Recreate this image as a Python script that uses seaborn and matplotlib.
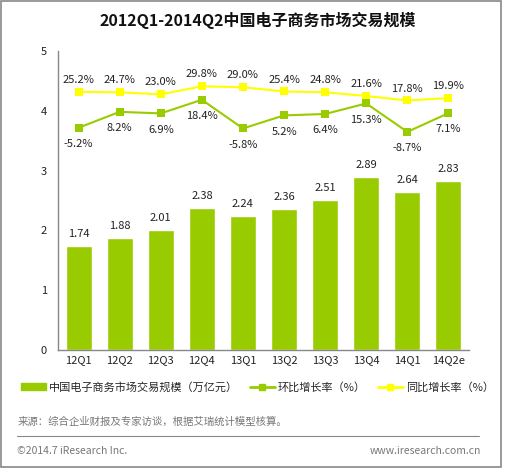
import numpy as np
import seaborn as sns
import matplotlib.pyplot as plt
from matplotlib.lines import Line2D
from matplotlib.patches import Patch, Rectangle

# data
quarters = ['12Q1', '12Q2', '12Q3', '12Q4', '13Q1', '13Q2', '13Q3', '13Q4', '14Q1', '14Q2e']
scale = [1.74, 1.88, 2.01, 2.38, 2.24, 2.36, 2.51, 2.89, 2.64, 2.83]
qoq = [-5.2, 8.2, 6.9, 18.4, -5.8, 5.2, 6.4, 15.3, -8.7, 7.1]
yoy = [25.2, 24.7, 23.0, 29.8, 29.0, 25.4, 24.8, 21.6, 17.8, 19.9]

green = '#99CC00'
yellow = '#FFFF00'

sns.set_style('white')
plt.rcParams['font.family'] = ['Noto Sans CJK SC', 'DejaVu Sans']

fig = plt.figure(figsize=(5.05, 4.68), dpi=100)
ax = fig.add_axes([0.1149, 0.2521, 0.8138, 0.6389])

sns.barplot(x=quarters, y=scale, color=green, width=0.63, saturation=1, ax=ax)
ax.set_ylim(0, 5)
ax.set_xlim(-0.5, 9.5)
ax.set_yticks(range(6))
ax.tick_params(axis='both', labelsize=8, length=0, colors='#222222')
ax.tick_params(axis='y', pad=8)
ax.tick_params(axis='x', pad=4)
for side in ['top', 'right']:
    ax.spines[side].set_visible(False)
for side in ['left', 'bottom']:
    ax.spines[side].set_color('#888888')
    ax.spines[side].set_linewidth(1)
ax.set_ylabel('')

for i, v in enumerate(scale):
    ax.annotate(f'{v:.2f}', (i, v), xytext=(0, 5), textcoords='offset points',
                ha='center', va='bottom', fontsize=8, color='#222222')

# growth rates on a hidden second scale
ax2 = ax.twinx()
idx = np.arange(len(quarters))
sns.lineplot(x=idx, y=yoy, ax=ax2, color=yellow, marker='s', markersize=5.5,
             markeredgewidth=0, linewidth=1.5)
sns.lineplot(x=idx, y=qoq, ax=ax2, color=green, marker='s', markersize=5.5,
             markeredgewidth=0, linewidth=1.5)
ax2.set_ylim(-193, 59.6)
ax2.set_yticks([])
for s in ax2.spines.values():
    s.set_visible(False)

for i in idx:
    ax2.annotate(f'{yoy[i]:.1f}%', (i, yoy[i]), xytext=(0, 5), textcoords='offset points',
                 ha='center', va='bottom', fontsize=8, color='#222222')
    ax2.annotate(f'{qoq[i]:.1f}%', (i, qoq[i]), xytext=(0, -8), textcoords='offset points',
                 ha='center', va='top', fontsize=8, color='#222222')

fig.suptitle('2012Q1-2014Q2中国电子商务市场交易规模', x=0.51, y=0.975, fontsize=11.5,
             fontweight='bold', color='#111111')

handles = [
    Patch(color=green),
    Line2D([], [], color=green, marker='s', markersize=5, linewidth=2),
    Line2D([], [], color=yellow, marker='s', markersize=5, linewidth=2),
]
labels = ['中国电子商务市场交易规模（万亿元）', '环比增长率（%）', '同比增长率（%）']
fig.legend(handles, labels, loc='center', bbox_to_anchor=(0.51, 0.173), ncol=3,
           frameon=False, fontsize=8, handlelength=2.2, handleheight=0.6,
           columnspacing=1.1, handletextpad=0.3)

fig.text(0.034, 0.098, '来源：综合企业财报及专家访谈，根据艾瑞统计模型核算。',
         fontsize=7.5, color='#777777', va='center')
fig.add_artist(Line2D([0.034, 0.949], [0.068, 0.068], color='#888888', linewidth=0.8))
fig.text(0.034, 0.036, '©2014.7 iResearch Inc.', fontsize=7.5, color='#777777', va='center')
fig.text(0.952, 0.036, 'www.iresearch.com.cn', fontsize=7.5, color='#777777',
         va='center', ha='right')

fig.add_artist(Rectangle((0.002, 0.003), 0.99, 0.994, transform=fig.transFigure,
                         fill=False, edgecolor='#888888', linewidth=1.2))

fig.savefig('out.png', dpi=100)
